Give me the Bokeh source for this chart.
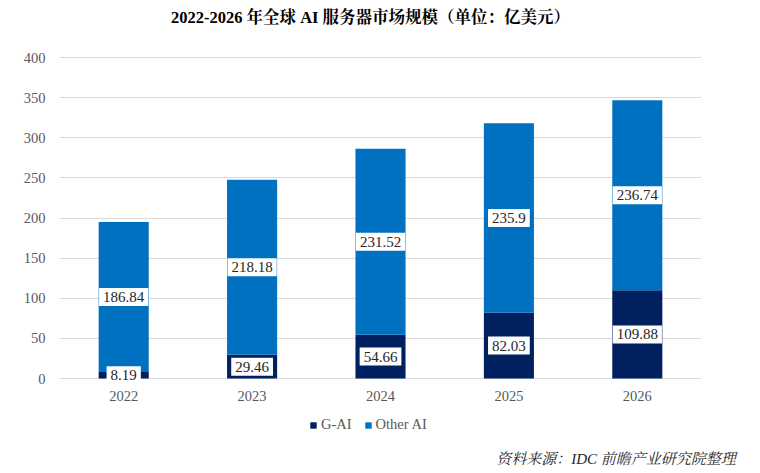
from bokeh.plotting import figure
from bokeh.models import (ColumnDataSource, FactorRange, Range1d, Title, Label,
                          Legend, LegendItem, FixedTicker)
from bokeh.core.properties import value
from bokeh.embed import file_html
from bokeh.resources import INLINE

# ---- data ----
years = ["2022", "2023", "2024", "2025", "2026"]
g_ai = [8.19, 29.46, 54.66, 82.03, 109.88]
other_ai = [186.84, 218.18, 231.52, 235.9, 236.74]
series_names = ["G-AI", "Other AI"]
y_ticks = [0, 50, 100, 150, 200, 250, 300, 350, 400]
title_text = "2022-2026 年全球 AI 服务器市场规模（单位：亿美元）"
source_text = "资料来源：IDC  前瞻产业研究院整理"

# ---- styles ----
C_GAI = "#002060"
C_OTHER = "#0070C0"
GREY = "#595959"
SERIF = "Liberation Serif, Noto Serif CJK SC, Noto Sans CJK SC"
LATIN_SERIF = "Liberation Serif"

src = ColumnDataSource(dict(
    years=years,
    g=g_ai,
    o=other_ai,
    g_mid=[v / 2 for v in g_ai],
    o_mid=[a + b / 2 for a, b in zip(g_ai, other_ai)],
    g_txt=[str(v) for v in g_ai],
    o_txt=[str(v) for v in other_ai],
))

# frame spans 642 x 442 px (0.8025 px per unit); the plotted area 0..400 sits in the middle
p = figure(x_range=FactorRange(*years, range_padding=0), y_range=Range1d(-79.75, 471.03),
           width=752, height=472, output_backend="svg", toolbar_location=None,
           min_border_left=59, min_border_right=51, min_border_top=0, min_border_bottom=30)
p.outline_line_color = None
p.background_fill_color = "white"
p.border_fill_color = "white"

r = p.vbar_stack(["g", "o"], x="years", width=0.39, source=src,
                 color=[C_GAI, C_OTHER], line_color=None)

# axes
p.yaxis.ticker = FixedTicker(ticks=y_ticks)
p.yaxis.axis_line_color = None
p.yaxis.major_tick_line_color = None
p.yaxis.minor_tick_line_color = None
p.yaxis.major_label_standoff = 8
p.yaxis.major_label_text_font = LATIN_SERIF
p.yaxis.major_label_text_font_size = "14.5px"
p.yaxis.major_label_text_color = GREY

p.xaxis.fixed_location = 0
p.xaxis.axis_line_color = None
p.xaxis.major_tick_line_color = None
p.xaxis.minor_tick_line_color = None
p.xaxis.major_label_standoff = 6
p.xaxis.major_label_text_font = LATIN_SERIF
p.xaxis.major_label_text_font_size = "14.5px"
p.xaxis.major_label_text_color = GREY

p.xgrid.grid_line_color = None
p.ygrid.grid_line_color = "#d9d9d9"
p.ygrid.grid_line_width = 1

# value labels (white boxes)
for ycol, tcol in (("g_mid", "g_txt"), ("o_mid", "o_txt")):
    p.text(x="years", y=ycol, text=tcol, source=src,
           text_align="center", text_baseline="middle",
           text_font=value(LATIN_SERIF), text_font_size="15px", text_color="#262626",
           background_fill_color="white", padding=4)

# legend
legend = Legend(items=[LegendItem(label=series_names[0], renderers=[r[0]]),
                       LegendItem(label=series_names[1], renderers=[r[1]])],
                orientation="horizontal", location=(250, 9),
                padding=0, margin=0, spacing=12, label_standoff=4,
                glyph_width=8, glyph_height=8, label_height=16,
                label_text_font=LATIN_SERIF, label_text_font_size="14.5px",
                label_text_color=GREY, border_line_color=None,
                background_fill_alpha=0)
p.add_layout(legend)

# title
p.add_layout(Label(x=311, y=425, x_units="screen", y_units="screen", text=title_text,
                   text_align="center", text_baseline="middle",
                   text_font=SERIF, text_font_size="16.5px", text_font_style="bold",
                   text_color="#000000"))

# source note
p.add_layout(Title(text=source_text, align="right", offset=-38, standoff=12,
                   text_font=SERIF, text_font_size="15px", text_font_style="italic",
                   text_color="#262626"), "below")

open("out.html", "w").write(file_html(p, INLINE))
